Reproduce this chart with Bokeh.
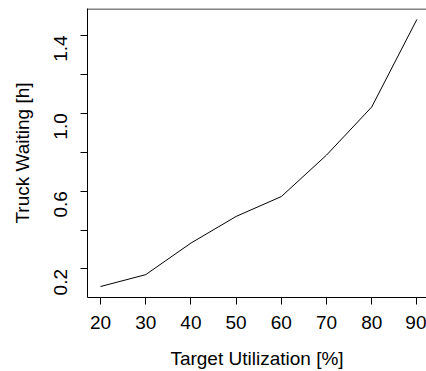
import math
from bokeh.plotting import figure
from bokeh.models import FixedTicker, Range1d, Span
from bokeh.embed import file_html
from bokeh.resources import INLINE

# data
utilization = [20, 30, 40, 50, 60, 70, 80, 90]
waiting = [0.11, 0.171, 0.333, 0.470, 0.572, 0.785, 1.032, 1.482]
x_ticks = [20, 30, 40, 50, 60, 70, 80, 90]
y_ticks = [0.2, 0.4, 0.6, 0.8, 1.0, 1.2, 1.4]
y_labels = {0.2: "0.2", 0.4: "", 0.6: "0.6", 0.8: "", 1.0: "1.0", 1.2: "", 1.4: "1.4"}

FONT = "Liberation Sans"
Y_BOTTOM = 0.0536
Y_TOP = 1.538

p = figure(width=426, height=371, output_backend="svg", toolbar_location=None,
           x_range=Range1d(17.12, 92.12), y_range=Range1d(Y_BOTTOM, Y_TOP),
           min_border_left=87, min_border_right=0, min_border_top=8, min_border_bottom=72)

p.line(utilization, waiting, line_color="black", line_width=1)

p.grid.visible = False
p.outline_line_color = None
p.background_fill_color = "white"
p.border_fill_color = "white"
# top edge of the box (half a pixel inside the frame for a crisp line)
top_edge = Y_TOP - (Y_TOP - Y_BOTTOM) * 0.5 / 291
p.add_layout(Span(location=top_edge, dimension="width", line_color="black", line_width=1))

for ax in (p.xaxis[0], p.yaxis[0]):
    ax.axis_line_color = "black"
    ax.major_tick_line_color = "black"
    ax.major_tick_out = 7
    ax.major_tick_in = 0
    ax.minor_tick_line_color = None
    ax.major_label_text_font = FONT
    ax.major_label_text_font_size = "19px"
    ax.major_label_text_color = "black"
    ax.axis_label_text_font = FONT
    ax.axis_label_text_font_size = "19px"
    ax.axis_label_text_font_style = "normal"
    ax.axis_label_text_color = "black"

p.xaxis.ticker = FixedTicker(ticks=x_ticks)
p.xaxis.major_label_standoff = 11
p.xaxis.axis_label = "Target Utilization [%]"
p.xaxis.axis_label_standoff = 16

p.yaxis.ticker = FixedTicker(ticks=y_ticks)
p.yaxis.major_label_overrides = {k: v for k, v in y_labels.items()}
p.yaxis.major_label_orientation = math.pi / 2
p.yaxis.major_label_standoff = 20
p.yaxis.axis_label = "Truck Waiting [h]"
p.yaxis.axis_label_standoff = 12

open("out.html", "w").write(file_html(p, INLINE))
